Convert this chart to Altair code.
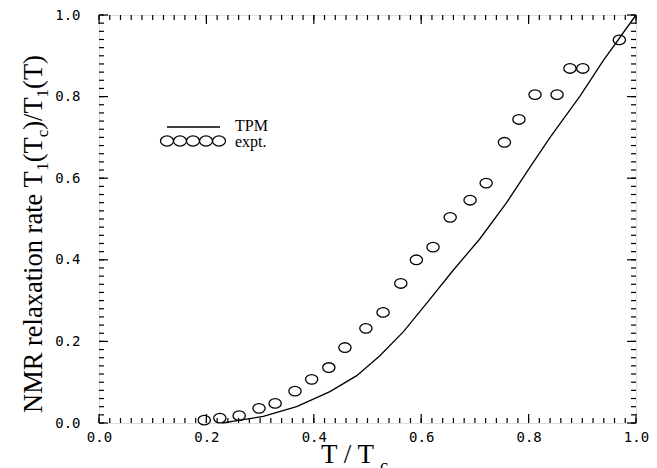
import altair as alt
import pandas as pd

# experimental points (expt.)
expt_x = [0.196, 0.225, 0.261, 0.298, 0.328, 0.365, 0.396, 0.428, 0.458, 0.497, 0.529, 0.562,
          0.591, 0.622, 0.654, 0.691, 0.721, 0.755, 0.782, 0.812, 0.853, 0.877, 0.901, 0.969]
expt_y = [0.007, 0.012, 0.018, 0.036, 0.048, 0.078, 0.107, 0.136, 0.185, 0.232, 0.271, 0.342,
          0.400, 0.431, 0.504, 0.546, 0.588, 0.688, 0.744, 0.805, 0.805, 0.869, 0.869, 0.939]

# theory curve (TPM)
tpm_x = [0.23, 0.263, 0.306, 0.368, 0.430, 0.480, 0.523, 0.567, 0.613, 0.660, 0.709, 0.759,
         0.803, 0.840, 0.896, 0.939, 1.0]
tpm_y = [0.0, 0.007, 0.016, 0.040, 0.077, 0.116, 0.165, 0.224, 0.298, 0.375, 0.451, 0.540,
         0.628, 0.700, 0.802, 0.888, 1.0]

major_ticks = [0.0, 0.2, 0.4, 0.6, 0.8, 1.0]
minor_ticks = [round(i * 0.02, 2) for i in range(51)]

W, H = 537, 408
SERIF = "Liberation Serif"
MONO = "DejaVu Sans Mono"

xs = alt.Scale(domain=[0, 1], nice=False, zero=False)
ys = alt.Scale(domain=[0, 1], nice=False, zero=False)

x_axis = alt.Axis(values=major_ticks, format=".1f", title=None, ticks=False, domain=False,
                  grid=False, labelFont=MONO, labelFontSize=14, labelColor="black",
                  labelPadding=7, labelFlush=False, labelOverlap=False)
y_axis = alt.Axis(values=major_ticks, format=".1f", title=None, ticks=False, domain=False,
                  grid=False, labelFont=MONO, labelFontSize=14, labelColor="black",
                  labelPadding=19, labelFlush=False, labelOverlap=False)

df_e = pd.DataFrame({"x": expt_x, "y": expt_y})
df_t = pd.DataFrame({"x": tpm_x, "y": tpm_y})
df_major = pd.DataFrame({"v": major_ticks})
df_minor = pd.DataFrame({"v": minor_ticks})

ellipse = "M-1,0 A1,0.78 0 1,0 1,0 A1,0.78 0 1,0 -1,0"

line = alt.Chart(df_t).mark_line(color="black", strokeWidth=1.3).encode(
    x=alt.X("x:Q", scale=xs, axis=x_axis),
    y=alt.Y("y:Q", scale=ys, axis=y_axis),
)

pts = alt.Chart(df_e).mark_point(shape=ellipse, size=150, filled=False, color="black",
                                 strokeWidth=1.3, opacity=1).encode(
    x=alt.X("x:Q", scale=xs, axis=x_axis), y=alt.Y("y:Q", scale=ys, axis=y_axis))


def xticks(df, length):
    bot = alt.Chart(df).mark_rule(color="black", strokeWidth=1.2).encode(
        x=alt.X("v:Q", scale=xs, axis=x_axis), y=alt.value(H), y2=alt.value(H - length))
    top = alt.Chart(df).mark_rule(color="black", strokeWidth=1.2).encode(
        x=alt.X("v:Q", scale=xs, axis=x_axis), y=alt.value(0), y2=alt.value(length))
    return [bot, top]


def yticks(df, length):
    left = alt.Chart(df).mark_rule(color="black", strokeWidth=1.2).encode(
        y=alt.Y("v:Q", scale=ys, axis=y_axis), x=alt.value(0), x2=alt.value(length))
    right = alt.Chart(df).mark_rule(color="black", strokeWidth=1.2).encode(
        y=alt.Y("v:Q", scale=ys, axis=y_axis), x=alt.value(W), x2=alt.value(W - length))
    return [left, right]


tick_layers = xticks(df_minor, 5) + xticks(df_major, 9) + yticks(df_minor, 5) + yticks(df_major, 9)

one = alt.Data(values=[{"a": 1}])


def txt(t, px, py, fs, angle=0, align="left", font=SERIF):
    return alt.Chart(one).mark_text(text=t, font=font, fontSize=fs, angle=angle, align=align,
                                    baseline="alphabetic", color="black").encode(
        x=alt.value(px), y=alt.value(py))


# Times-metric widths (Liberation Serif is metric compatible)
TW = {" ": 250, "(": 333, ")": 333, "/": 278, "1": 500, "N": 722, "M": 889, "R": 667, "T": 611,
      "a": 444, "c": 444, "e": 444, "i": 278, "l": 278, "n": 500, "o": 500, "r": 333, "t": 278,
      "x": 500}


def width(s, fs):
    return sum(TW[ch] for ch in s) * fs / 1000.0


# y-axis title pieces (rotated, reading bottom to top)
FS, SUB, SHIFT = 26.5, 17, 6
ypieces = [("NMR relaxation rate T", False), ("1", True), ("(T", False), ("c", True),
           (")/T", False), ("1", True), ("(T)", False)]
title_layers = []
cur = 413 - 15  # plot coordinates
bx = 42 - 99
for s, sub in ypieces:
    fs = SUB if sub else FS
    title_layers.append(txt(s, bx + (SHIFT if sub else 0), cur, fs, angle=270))
    cur -= width(s, fs)

# x-axis title pieces
xb = 463 - 15
x0 = 321 - 99
title_layers.append(txt("T / T", x0, xb, 27))
title_layers.append(txt("c", x0 + width("T / T", 27) + 5, xb + 9, 18))

# legend
leg_line = alt.Chart(one).mark_rule(color="black", strokeWidth=1.3).encode(
    x=alt.value(68), x2=alt.value(121), y=alt.value(112))
leg_pts = [
    alt.Chart(one).mark_point(shape=ellipse, size=169, filled=False, color="black",
                              strokeWidth=1.3, opacity=1).encode(
        x=alt.value(68 + 13 * k), y=alt.value(126))
    for k in range(5)
]
leg_txt = [txt("TPM", 136, 116, 16), txt("expt.", 136, 132, 16)]

chart = alt.layer(
    line, pts, *tick_layers, leg_line, *leg_pts, *leg_txt, *title_layers
).properties(
    width=W, height=H,
    autosize=alt.AutoSizeParams(type="none"),
    padding={"left": 91, "top": 7, "right": 13, "bottom": 45},
).configure_view(stroke="black", strokeWidth=1.5).configure_axis(grid=False).configure(background="white")

chart.save("out.html", embed_options={"renderer": "svg", "actions": False})
